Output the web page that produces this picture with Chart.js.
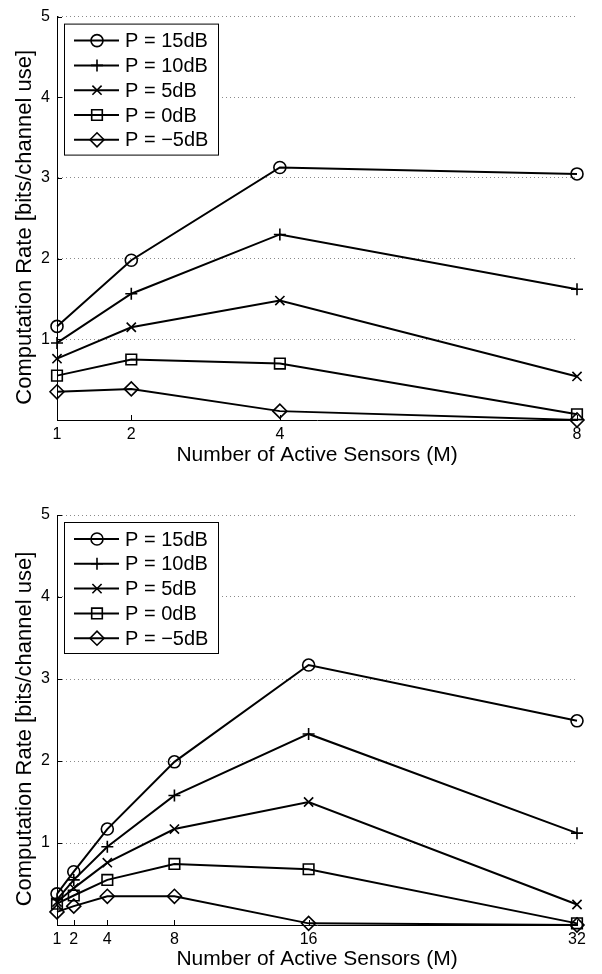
<!DOCTYPE html>
<html><head><meta charset="utf-8">
<script src="https://cdn.jsdelivr.net/npm/chart.js@4.4.1/dist/chart.umd.min.js"></script>
<style>
html,body{margin:0;padding:0;background:#fff;overflow:hidden;width:602px;height:974px}
canvas{position:absolute;left:0;display:block}
</style></head><body>
<canvas id="c1" width="602" height="470" style="top:0px"></canvas>
<canvas id="c2" width="602" height="499" style="top:475px"></canvas>
<script>
// ---- data ----
const seriesLabels = ['P = 15dB', 'P = 10dB', 'P = 5dB', 'P = 0dB', 'P = \u22125dB'];
const pointStyles = ['circle', 'cross', 'crossRot', 'rect', 'rectRot'];
const pointRadii = [6, 6, 6.5, 7.5, 7];

const xTop = [1, 2, 4, 8];
const top_P15 = [1.16, 1.98, 3.13, 3.05];
const top_P10 = [0.955, 1.565, 2.30, 1.62];
const top_P5  = [0.76, 1.15, 1.48, 0.54];
const top_P0  = [0.55, 0.75, 0.70, 0.07];
const top_Pm5 = [0.35, 0.385, 0.11, 0.0];

const xBottom = [1, 2, 4, 8, 16, 32];
const bot_P15 = [0.38, 0.65, 1.17, 1.99, 3.17, 2.49];
const bot_P10 = [0.31, 0.55, 0.955, 1.58, 2.33, 1.12];
const bot_P5  = [0.28, 0.45, 0.76, 1.17, 1.50, 0.25];
const bot_P0  = [0.26, 0.36, 0.55, 0.745, 0.68, 0.02];
const bot_Pm5 = [0.16, 0.23, 0.35, 0.35, 0.02, 0.0];

const yTicks = [0, 1, 2, 3, 4, 5];
const xTitle = 'Number of Active Sensors (M)';
const yTitle = 'Computation Rate [bits/channel use]';

const FONT = '"Liberation Sans", Arial, Helvetica, sans-serif';

function drawMarker(ctx, style, r, x, y) {
  ctx.beginPath();
  if (style === 'circle') {
    ctx.arc(x, y, r, 0, Math.PI * 2);
  } else if (style === 'cross') {
    ctx.moveTo(x - r, y); ctx.lineTo(x + r, y);
    ctx.moveTo(x, y - r); ctx.lineTo(x, y + r);
  } else if (style === 'crossRot') {
    const d = r * Math.SQRT1_2;
    ctx.moveTo(x - d, y - d); ctx.lineTo(x + d, y + d);
    ctx.moveTo(x - d, y + d); ctx.lineTo(x + d, y - d);
  } else if (style === 'rect') {
    const s = r * Math.SQRT1_2;
    ctx.rect(x - s, y - s, 2 * s, 2 * s);
  } else if (style === 'rectRot') {
    ctx.moveTo(x - r, y); ctx.lineTo(x, y - r); ctx.lineTo(x + r, y); ctx.lineTo(x, y + r);
    ctx.closePath();
  }
  ctx.stroke();
}

const decorPlugin = {
  id: 'decor',
  afterDraw(chart) {
    const {ctx, chartArea, scales} = chart;
    ctx.save();
    // inward tick marks
    ctx.strokeStyle = '#000';
    ctx.lineWidth = 1;
    ctx.beginPath();
    scales.x.ticks.forEach(t => {
      const px = Math.round(scales.x.getPixelForValue(t.value)) + 0.5;
      ctx.moveTo(px, chartArea.bottom);
      ctx.lineTo(px, chartArea.bottom - 5);
    });
    scales.y.ticks.forEach(t => {
      if (t.value === 0) return;
      const py = Math.round(scales.y.getPixelForValue(t.value)) + 0.5;
      ctx.moveTo(chartArea.left, py);
      ctx.lineTo(chartArea.left + 5, py);
    });
    ctx.stroke();

    // y axis title
    ctx.save();
    ctx.translate(25, (chartArea.top + chartArea.bottom) / 2 + 9);
    ctx.rotate(-Math.PI / 2);
    ctx.font = '22px ' + FONT;
    ctx.fillStyle = '#000';
    ctx.textAlign = 'center';
    ctx.textBaseline = 'middle';
    ctx.fillText(yTitle, 0, 0);
    ctx.restore();

    // legend box
    const bx = chartArea.left + 7, by = chartArea.top + 7;
    const bw = 154, bh = 131;
    ctx.fillStyle = '#fff';
    ctx.fillRect(bx, by, bw, bh);
    ctx.strokeStyle = '#000';
    ctx.lineWidth = 1;
    ctx.strokeRect(bx + 0.5, by + 0.5, bw, bh);
    ctx.font = '20px ' + FONT;
    ctx.textBaseline = 'middle';
    ctx.textAlign = 'left';
    chart.data.datasets.forEach((ds, i) => {
      const y = by + 17 + i * 24.8;
      ctx.strokeStyle = '#000';
      ctx.lineWidth = 2;
      ctx.beginPath();
      ctx.moveTo(bx + 10, y); ctx.lineTo(bx + 55, y);
      ctx.stroke();
      ctx.lineWidth = 1.6;
      drawMarker(ctx, ds.pointStyle, ds.pointRadius, bx + 33, y);
      ctx.fillStyle = '#000';
      ctx.fillText(ds.label, bx + 61, y + 1);
    });
    ctx.restore();
  }
};

function makeChart(id, xs, series, xMax, padTop, xHeight) {
  const datasets = series.map((vals, i) => ({
    label: seriesLabels[i],
    data: xs.map((x, j) => ({x: x, y: vals[j]})),
    borderColor: '#000',
    borderWidth: 2,
    pointStyle: pointStyles[i],
    pointRadius: pointRadii[i],
    pointBorderWidth: 1.6,
    pointBorderColor: '#000',
    pointBackgroundColor: 'rgba(0,0,0,0)',
    fill: false,
    tension: 0,
    clip: false
  }));
  return new Chart(document.getElementById(id), {
    type: 'line',
    data: {datasets},
    options: {
      responsive: false,
      animation: false,
      devicePixelRatio: 1,
      layout: {padding: {top: padTop, right: 25, left: 0, bottom: 0}},
      plugins: {legend: {display: false}, tooltip: {enabled: false}},
      scales: {
        x: {
          type: 'linear',
          min: 1, max: xMax,
          afterBuildTicks: s => { s.ticks = xs.map(v => ({value: v})); },
          afterFit: s => { s.height = xHeight; },
          grid: {display: false, drawTicks: false},
          border: {display: true, color: '#000', width: 1},
          ticks: {
            color: '#000',
            font: {family: FONT, size: 16},
            padding: 5,
            maxRotation: 0,
            autoSkip: false,
            callback: v => String(v)
          },
          title: {
            display: true, text: xTitle, color: '#000',
            font: {family: FONT, size: 21, lineHeight: 1.2},
            padding: {top: 0, bottom: 2}
          }
        },
        y: {
          type: 'linear',
          min: 0, max: 5,
          afterBuildTicks: s => { s.ticks = yTicks.map(v => ({value: v})); },
          afterFit: s => { s.width = 57; },
          grid: {display: true, drawTicks: false, color: '#8a8a8a', lineWidth: 1},
          border: {display: true, color: '#000', width: 1, dash: [1, 3]},
          ticks: {
            color: '#000',
            font: {family: FONT, size: 16},
            padding: 7,
            callback: v => (v === 0 ? '' : String(v))
          },
          title: {display: false}
        }
      }
    },
    plugins: [decorPlugin]
  });
}

makeChart('c1', xTop, [top_P15, top_P10, top_P5, top_P0, top_Pm5], 8, 10, 50);
makeChart('c2', xBottom, [bot_P15, bot_P10, bot_P5, bot_P0, bot_Pm5], 32, 40, 49);
</script>
</body></html>
